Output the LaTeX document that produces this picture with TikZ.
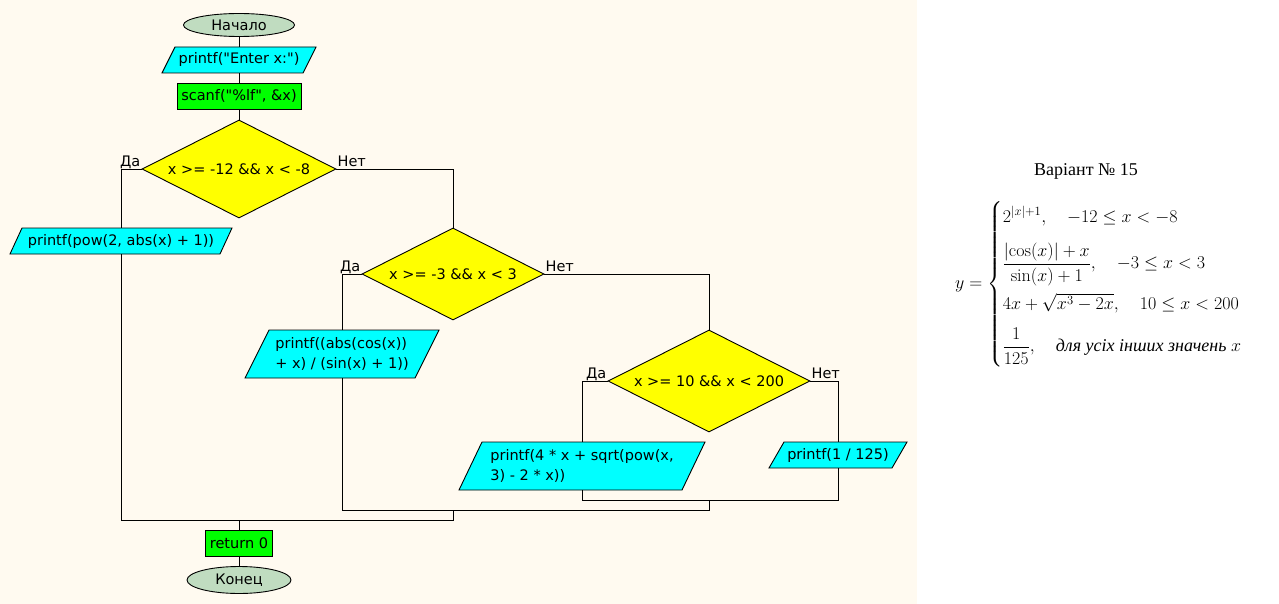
\RequirePackage{fix-cm}
\documentclass[tikz,border=0pt]{standalone}
\usepackage{fontspec}
\usepackage{amsmath}
\usetikzlibrary{shapes.geometric}
\newfontfamily\fcf{DejaVu Sans}
\newfontfamily\tnr{Liberation Serif}
\definecolor{cream}{HTML}{FFFAF0}
\definecolor{termc}{HTML}{C0DCC0}
\definecolor{ioc}{HTML}{00FFFF}
\definecolor{procc}{HTML}{00FF00}
\definecolor{decc}{HTML}{FFFF00}
\tikzset{
  base/.style={font=\fcf\fontsize{14.5}{20}\selectfont, inner sep=0pt},
  term/.style={base, ellipse, draw, fill=termc, line width=0.9pt},
  proc/.style={base, rectangle, draw, fill=procc, line width=0.9pt},
  dec/.style={base, diamond, draw, fill=decc, line width=0.9pt, aspect=2},
  iotext/.style={base, rectangle, align=left},
  iofill/.style={draw, fill=ioc, line width=0.9pt},
  conn/.style={draw, line width=0.9pt},
  lbl/.style={base, inner sep=1pt},
}
\newcommand{\ioblock}[7]{%
  \path[iofill] ({#2-#4/2+#6/2},{#3-#5/2}) -- ({#2+#4/2+#6/2},{#3-#5/2}) -- ({#2+#4/2-#6/2},{#3+#5/2}) -- ({#2-#4/2-#6/2},{#3+#5/2}) -- cycle;
  \node[iotext, minimum width=#4, minimum height=#5] (#1) at (#2,#3) {#7};
}
\begin{document}
\begin{tikzpicture}[x=1pt,y=-1pt]
\useasboundingbox (0,0) rectangle (1279,604);
\fill[white] (0,0) rectangle (1279,604);
\fill[cream] (0,0) rectangle (917,604);

\node[term, minimum width=111, minimum height=23] (start) at (239,25) {Начало};
\ioblock{pr1}{239}{60}{141}{26}{13}{printf(\symbol{34}Enter x:\symbol{34})}
\node[proc, minimum width=124, minimum height=26] (sc) at (239,96) {scanf(\symbol{34}\%lf\symbol{34}, \&x)};
\node[dec, minimum width=194, minimum height=98] (d1) at (239,169) {x >= -12 \&\& x < -8};
\ioblock{pw}{121}{241}{210}{26}{12}{printf(pow(2, abs(x) + 1))}
\node[dec, minimum width=182, minimum height=92] (d2) at (453,274) {x >= -3 \&\& x < 3};
\ioblock{pa}{342}{354}{170}{48}{24}{printf((abs(cos(x))\\+ x) / (sin(x) + 1))}
\node[dec, minimum width=202, minimum height=102] (d3) at (709,381) {x >= 10 \&\& x < 200};
\ioblock{pb}{582}{466}{223}{48}{23}{printf(4 * x + sqrt(pow(x,\\3) - 2 * x))}
\ioblock{pc}{838}{455}{123}{26}{15}{printf(1 / 125)}
\node[proc, minimum width=67, minimum height=26] (ret) at (239,543) {return 0};
\node[term, minimum width=104, minimum height=27] (end) at (239,580) {Конец};

\coordinate (j1) at (239,520);
\coordinate (m1) at (453,520);
\coordinate (j2) at (453,510);
\coordinate (m2) at (709,510);
\coordinate (j3) at (709,500);
\coordinate (m3) at (838,500);

\draw[conn] (start.south) -- (pr1.north);
\draw[conn] (pr1.south) -- (sc.north);
\draw[conn] (sc.south) -- (d1.north);
\draw[conn] (d1.west) -| (pw.north);
\draw[conn] (d1.east) -| (d2.north);
\draw[conn] (pw.south) |- (m1) -- (j2);
\draw[conn] (d2.west) -| (pa.north);
\draw[conn] (d2.east) -| (d3.north);
\draw[conn] (pa.south) |- (m2) -- (j3);
\draw[conn] (d3.west) -| (pb.north);
\draw[conn] (d3.east) -| (pc.north);
\draw[conn] (pb.south) |- (m3) -- (pc.south);
\draw[conn] (j1) -- (ret.north);
\draw[conn] (ret.south) -- (end.north);

\node[lbl, anchor=base east] (y1) at ([yshift=2.5pt]d1.west) {Да};
\node[lbl, anchor=base west] (n1) at ([yshift=2.5pt]d1.east) {Нет};
\node[lbl, anchor=base east] (y2) at ([yshift=2.5pt]d2.west) {Да};
\node[lbl, anchor=base west] (n2) at ([yshift=2.5pt]d2.east) {Нет};
\node[lbl, anchor=base east] (y3) at ([yshift=2.5pt]d3.west) {Да};
\node[lbl, anchor=base west] (n3) at ([yshift=2.5pt]d3.east) {Нет};

\node[font=\tnr\fontsize{18}{22}\selectfont, inner sep=0pt, anchor=base] (title) at (1086,176) {Варіант № 15};
\node[font=\fontsize{18}{22}\selectfont, inner sep=0pt, anchor=west] (formula) at (955,284) {$y=\begin{cases}
2^{\lvert x\rvert+1},\quad -12\leq x<-8\\[13pt]
\dfrac{\lvert\cos(x)\rvert+x}{\sin(x)+1},\quad -3\leq x<3\\[14pt]
4x+\sqrt{x^3-2x},\quad 10\leq x<200\\[11pt]
\dfrac{1}{125},\quad \text{\tnr\itshape для усіх інших значень }x
\end{cases}$};
\end{tikzpicture}
\end{document}
